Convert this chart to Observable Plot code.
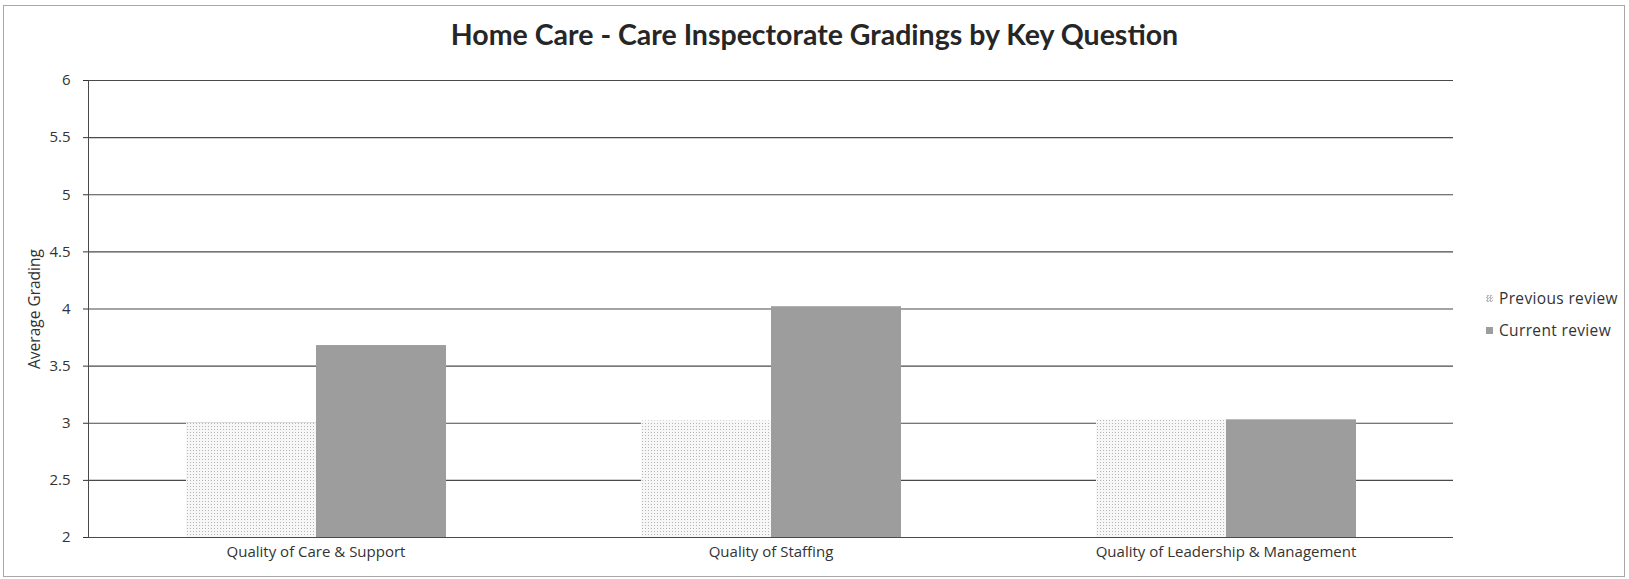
<!DOCTYPE html>
<html><head><meta charset="utf-8">
<script src="https://cdn.jsdelivr.net/npm/d3@7"></script>
<script src="https://cdn.jsdelivr.net/npm/@observablehq/plot@0.6"></script>
<style>
body{margin:0;background:#fff;}
#wrap{position:relative;width:1629px;height:579px;overflow:hidden;font-family:"Open Sans",Lato,sans-serif;}
#border{position:absolute;left:3px;top:5px;width:1622px;height:572px;border:1px solid #a8a8a8;box-sizing:border-box;}
#title{position:absolute;top:17px;left:0;width:1629px;text-align:center;font-family:Lato,sans-serif;font-weight:bold;font-size:28.5px;color:#262626;}
#chart{position:absolute;left:0;top:0;}
#legend{position:absolute;left:1486px;top:287px;font-size:15.5px;letter-spacing:0.35px;color:#333;}
.item{display:flex;align-items:center;height:22px;margin-bottom:10px;}
.sw{width:7px;height:7px;margin-right:6px;}
</style></head>
<body>
<div id="wrap">
  <div id="border"></div>
  <div id="chart"></div>
  <div id="title">Home Care - Care Inspectorate Gradings by Key Question</div>
  <div id="legend"></div>
</div>
<script>
const categories = ["Quality of Care & Support", "Quality of Staffing", "Quality of Leadership & Management"];
const series = ["Previous review", "Current review"];
const previous = [3.0, 3.02, 3.03];
const current = [3.68, 4.02, 3.03];
const yTicks = [2, 2.5, 3, 3.5, 4, 4.5, 5, 5.5, 6];
const seriesFill = ["url(#dots)", "#9d9d9d"];

const data = categories.flatMap((c, i) => [
  {category: c, series: series[0], value: previous[i]},
  {category: c, series: series[1], value: current[i]}
]);

const svg = Plot.plot({
  width: 1629, height: 579,
  marginTop: 80, marginBottom: 42, marginLeft: 87, marginRight: 176,
  style: {fontFamily: "'Open Sans', Lato, sans-serif", fontSize: "15px", color: "#333", background: "transparent"},
  fx: {domain: categories, padding: 0, label: null, tickSize: 0, tickPadding: 9},
  x: {domain: series, axis: null, paddingInner: 0, paddingOuter: 0.75},
  y: {domain: [2, 6], ticks: yTicks, tickFormat: d => String(d), axis: null},
  color: {domain: series, range: seriesFill},
  marks: [
    Plot.ruleY(yTicks, {stroke: "#4a4a4a", strokeWidth: 1.1}),
    Plot.barY(data, {fx: "category", x: "series", y1: 2, y2: "value", fill: "series"}),
    Plot.axisY(yTicks, {tickFormat: d => String(d), tickSize: 5, tickPadding: 13, label: null, fontSize: 15}),
    Plot.axisY({ticks: [], label: "Average Grading", labelAnchor: "center", labelArrow: "none", labelOffset: 60, fontSize: 15.5}),
    Plot.frame({anchor: "left", facetAnchor: "left", stroke: "#4a4a4a"})
  ]
});

const ns = "http://www.w3.org/2000/svg";
const defs = document.createElementNS(ns, "defs");
defs.innerHTML = '<pattern id="dots" width="3" height="3" patternUnits="userSpaceOnUse"><rect width="3" height="3" fill="#f7f7f7"/><rect width="1" height="1" fill="#b5b5b5"/></pattern>';
svg.insertBefore(defs, svg.firstChild);
document.getElementById("chart").appendChild(svg);

const legend = document.getElementById("legend");
series.forEach((s, i) => {
  const it = document.createElement("div");
  it.className = "item";
  const sw = document.createElement("div");
  sw.className = "sw";
  sw.style.background = i === 0 ? "repeating-conic-gradient(#bbb 0 25%, #f5f5f5 0 50%) 0 0/3px 3px" : seriesFill[i];
  const t = document.createElement("span");
  t.textContent = s;
  it.appendChild(sw); it.appendChild(t);
  legend.appendChild(it);
});
</script>
</body></html>
